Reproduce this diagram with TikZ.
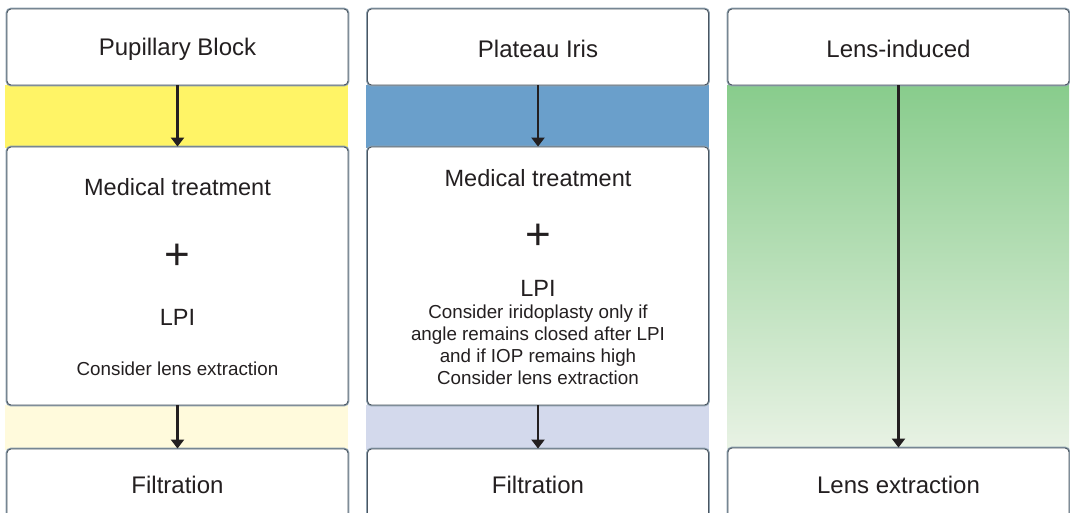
\documentclass[tikz,border=0pt]{standalone}
\usepackage{fontspec}
\setmainfont{Liberation Sans}
\usetikzlibrary{arrows.meta}
\definecolor{txt}{HTML}{231F20}
\definecolor{yel}{HTML}{FFF466}
\definecolor{yelL}{HTML}{FFFADC}
\definecolor{blu}{HTML}{6A9FCB}
\definecolor{bluL}{HTML}{D3D9EC}
\definecolor{grnT}{HTML}{88CC8C}
\definecolor{grnB}{HTML}{E8F2E4}
\definecolor{bordO}{HTML}{8FA2B0}
\definecolor{bordI}{HTML}{4A5560}
\tikzset{
  box/.style={rectangle, rounded corners=4pt, fill=white, draw=bordI, line width=0.9pt,
    preaction={draw=bordO, line width=2.8pt}, inner sep=0pt, text=txt},
  title/.style={font=\fontsize{24}{28}\selectfont, text=txt},
  big/.style={font=\fontsize{23.5}{28}\selectfont, text=txt},
  plus/.style={font=\fontsize{44}{46}\selectfont, text=txt},
  small/.style={font=\fontsize{18.8}{22}\selectfont, text=txt, align=center},
  arr/.style={-{Triangle[width=13pt,length=9pt]}, line width=2.2pt, draw=txt},
}
\begin{document}
\begin{tikzpicture}[x=1pt,y=-1pt]
\useasboundingbox (0,0) rectangle (1070,512);
\clip (0,0) rectangle (1070,512);
\fill[white] (0,0) rectangle (1070,512);
% bands
\fill[yel] (5,85) rectangle (348,148);
\fill[yelL] (5,405) rectangle (348,450);
\fill[blu] (366,85) rectangle (709,148);
\fill[bluL] (366,405) rectangle (709,450);
\shade[top color=grnT, bottom color=grnB] (727,85) rectangle (1069,448);
% column 1
\node[box, minimum width=341pt, minimum height=76pt] (pb) at (177.5,47) {};
\node[title] (pbt) at (177.5,49) {Pupillary Block};
\node[box, minimum width=341pt, minimum height=258pt] (m1) at (177.5,276) {};
\node[big] (m1a) at (177.5,187) {Medical treatment};
\node[plus] (m1b) at (177.5,257) {+};
\node[big] (m1c) at (177.5,317) {LPI};
\node[small] (m1d) at (177.5,369) {Consider lens extraction};
\node[box, minimum width=341pt, minimum height=80pt] (f1) at (177.5,489) {};
\node[title] (f1t) at (177.5,485) {Filtration};
\draw[arr] (pb.south) -- (m1.north);
\draw[arr] (m1.south) -- (f1.north);
% column 2
\node[box, minimum width=341pt, minimum height=76pt] (pi) at (538,47) {};
\node[title] (pit) at (538,49) {Plateau Iris};
\node[box, minimum width=341pt, minimum height=258pt] (m2) at (538,276) {};
\node[big] (m2a) at (538,178) {Medical treatment};
\node[plus] (m2b) at (538,237) {+};
\node[big] (m2c) at (538,288) {LPI};
\node[small] (m2d) at (538,344.5) {Consider iridoplasty only if\\angle remains closed after LPI\\and if IOP remains high\\Consider lens extraction};
\node[box, minimum width=341pt, minimum height=80pt] (f2) at (538,489) {};
\node[title] (f2t) at (538,485) {Filtration};
\draw[arr] (pi.south) -- (m2.north);
\draw[arr] (m2.south) -- (f2.north);
% column 3
\node[box, minimum width=341pt, minimum height=76pt] (li) at (898.5,47) {};
\node[title] (lit) at (898.5,49) {Lens-induced};
\node[box, minimum width=341pt, minimum height=80pt] (le) at (898.5,488) {};
\node[title] (let) at (898.5,485) {Lens extraction};
\draw[arr] (li.south) -- (le.north);
\end{tikzpicture}
\end{document}
